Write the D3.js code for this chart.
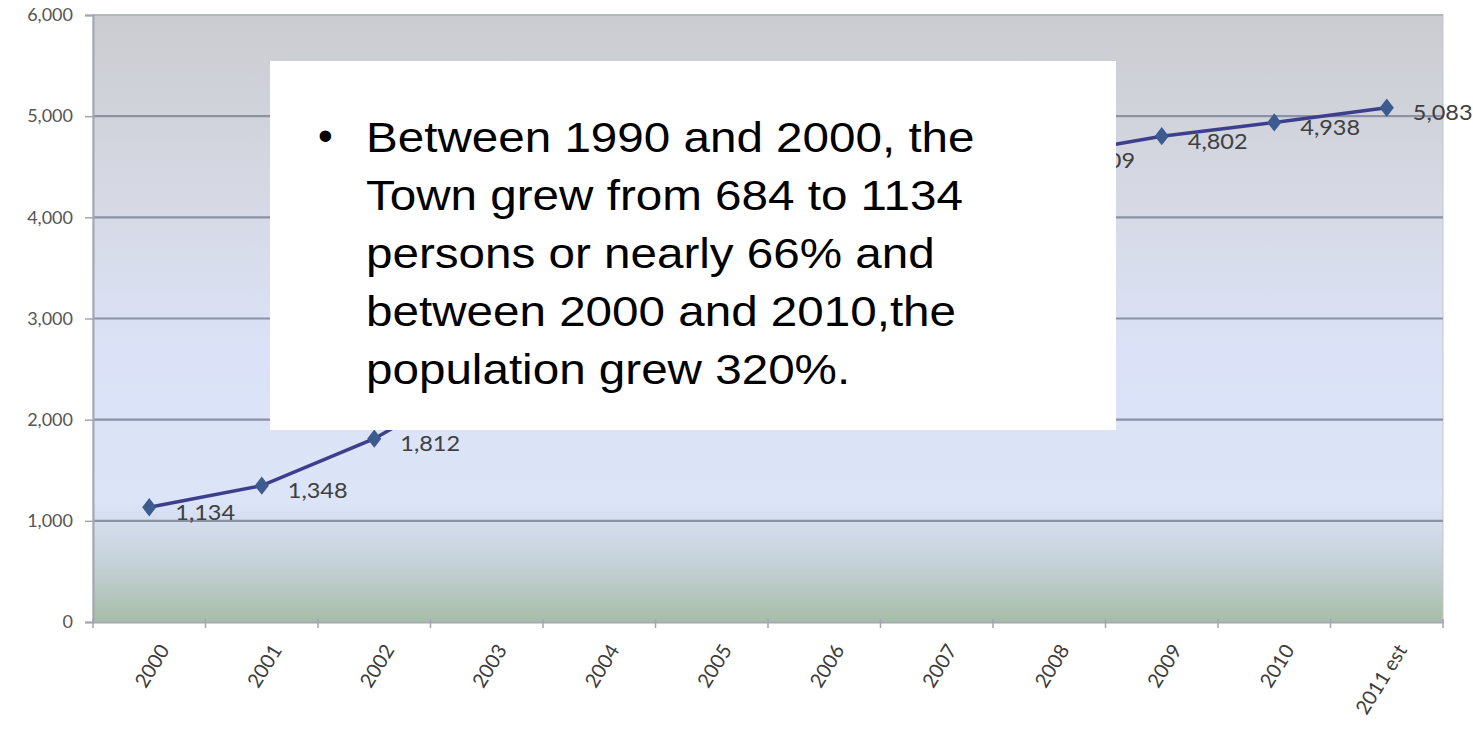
<!DOCTYPE html>
<html>
<head>
<meta charset="utf-8">
<script src="https://cdn.jsdelivr.net/npm/d3@7/dist/d3.min.js"></script>
<style>
  html, body { margin: 0; padding: 0; background: #ffffff; }
  svg { display: block; }
</style>
</head>
<body>
<svg id="chart" width="1473" height="731"></svg>
<script>
const categories = ["2000","2001","2002","2003","2004","2005","2006","2007","2008","2009","2010","2011 est"];
const population = [1134, 1348, 1812, 2450, 3000, 3550, 4020, 4380, 4609, 4802, 4938, 5083];
// points whose labels are hidden behind the note box in the reference
const hiddenLabels = ["2003","2004","2005","2006","2007"];
const yTicks = [0, 1000, 2000, 3000, 4000, 5000, 6000];
const noteLines = [
  "Between 1990 and 2000, the",
  "Town grew from 684 to 1134",
  "persons or nearly 66% and",
  "between 2000 and 2010,the",
  "population grew 320%."
];

const svg = d3.select("#chart");
const plot = { left: 93, right: 1443, top: 15, bottom: 622 };

const x = d3.scaleBand().domain(categories).range([plot.left, plot.right]).padding(0);
const y = d3.scaleLinear().domain([0, 6000]).range([plot.bottom, plot.top]);
const cx = d => x(d) + x.bandwidth() / 2;

// background gradient
const defs = svg.append("defs");
const grad = defs.append("linearGradient").attr("id", "bg").attr("x1", 0).attr("y1", 0).attr("x2", 0).attr("y2", 1);
[[0, "#cbccd1"], [0.3, "#d6d9e4"], [0.55, "#dbe2f7"], [0.8, "#dce4f8"], [0.9, "#c6d2d9"], [1, "#a6bda7"]]
  .forEach(([o, c]) => grad.append("stop").attr("offset", o).attr("stop-color", c));

svg.append("rect")
  .attr("x", plot.left).attr("y", plot.top)
  .attr("width", plot.right - plot.left).attr("height", plot.bottom - plot.top)
  .attr("fill", "url(#bg)")
  .attr("stroke", "#c4c6cc").attr("stroke-width", 1);

// gridlines
svg.append("g").selectAll("line").data(yTicks.filter(t => t > 0)).join("line")
  .attr("x1", plot.left).attr("x2", plot.right)
  .attr("y1", d => y(d)).attr("y2", d => y(d))
  .attr("stroke", d => d === 6000 ? "#b4b7bf" : "#8a92a3").attr("stroke-width", 2.2);

// y axis
const yAxis = d3.axisLeft(y).tickValues(yTicks).tickSize(8).tickPadding(12)
  .tickFormat(d3.format(","));
const gy = svg.append("g").attr("transform", `translate(${plot.left},0)`).call(yAxis);
gy.select(".domain").attr("stroke", "#a3a6ad").attr("stroke-width", 2);
gy.selectAll(".tick line").attr("stroke", "#a3a6ad").attr("stroke-width", 1.5);
gy.selectAll(".tick text").attr("font-family", "Lato, sans-serif").attr("font-size", 18)
  .attr("fill", "#555555");

// x axis
const xAxis = d3.axisBottom(x).tickSize(0).tickFormat(d => d);
const gx = svg.append("g").attr("transform", `translate(0,${plot.bottom})`).call(xAxis);
gx.select(".domain").attr("stroke", "#a3a6ad").attr("stroke-width", 2);
gx.selectAll(".tick text")
  .attr("font-family", "Lato, sans-serif").attr("font-size", 20).attr("fill", "#3c3c3c")
  .attr("text-anchor", "end")
  .attr("dy", 0).attr("y", 0)
  .attr("transform", "translate(21,28) rotate(-58)");
// boundary tick marks
const bounds = categories.map(c => x(c)).concat([plot.right]);
svg.append("g").selectAll("line").data(bounds).join("line")
  .attr("x1", d => d).attr("x2", d => d)
  .attr("y1", plot.bottom - 3).attr("y2", plot.bottom + 6)
  .attr("stroke", "#a3a6ad").attr("stroke-width", 1.5);

// line
const data = categories.map((c, i) => ({ c, v: population[i] }));
const line = d3.line().x(d => cx(d.c)).y(d => y(d.v));
svg.append("path").datum(data)
  .attr("d", line).attr("fill", "none")
  .attr("stroke", "#3d3f8d").attr("stroke-width", 3.5);

// markers (diamonds)
svg.append("g").selectAll("path").data(data).join("path")
  .attr("d", d3.symbol().type(d3.symbolDiamond).size(120))
  .attr("transform", d => `translate(${cx(d.c)},${y(d.v)}) scale(1.2,0.9)`)
  .attr("fill", "#3d5b8f");

// data labels
svg.append("g").selectAll("text").data(data.filter(d => !hiddenLabels.includes(d.c))).join("text")
  .attr("transform", d => `translate(${cx(d.c) + 26},${y(d.v) + 7}) scale(1.12,1)`)
  .attr("dominant-baseline", "middle")
  .attr("font-family", "Lato, sans-serif").attr("font-size", 21)
  .attr("fill", "#404040")
  .text(d => d3.format(",")(d.v));

// annotation box
const box = svg.append("g");
box.append("rect").attr("x", 270).attr("y", 61).attr("width", 846).attr("height", 369).attr("fill", "#ffffff");
box.append("text").attr("x", 318).attr("y", 150)
  .attr("font-family", "'Liberation Sans', Arial, sans-serif").attr("font-size", 42).attr("fill", "#000")
  .text("•");
box.append("g").attr("transform", "translate(366,0) scale(1.107,1)")
  .selectAll("text").data(noteLines).join("text")
  .attr("x", 0).attr("y", (d, i) => 152 + i * 58)
  .attr("font-family", "'Liberation Sans', Arial, sans-serif").attr("font-size", 43).attr("fill", "#000")
  .text(d => d);
</script>
</body>
</html>
